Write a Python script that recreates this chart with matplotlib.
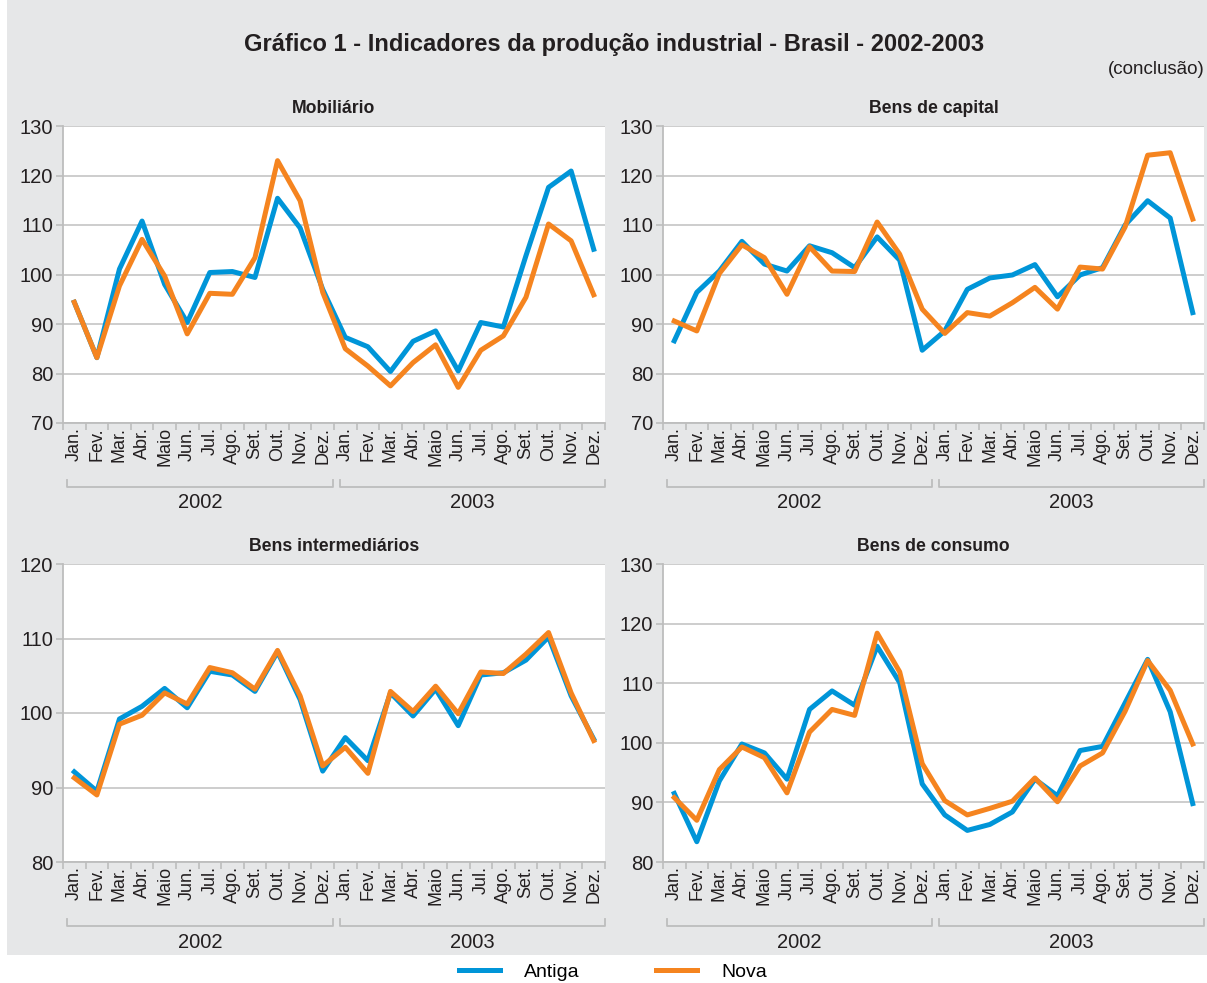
import numpy as np
import matplotlib
matplotlib.use('Agg')
import matplotlib.pyplot as plt
import matplotlib.transforms as mtransforms
from matplotlib.patches import Rectangle

plt.rcParams['font.family'] = ['Liberation Sans', 'DejaVu Sans']

meses = ['Jan.', 'Fev.', 'Mar.', 'Abr.', 'Maio', 'Jun.', 'Jul.', 'Ago.', 'Set.', 'Out.', 'Nov.', 'Dez.']
anos = ['2002', '2003']

# Mobiliario
mob_antiga = [94.4, 83.2, 101.1, 110.8, 98.0, 90.3, 100.4, 100.6, 99.4, 115.4, 109.4, 97.0,
              87.3, 85.4, 80.4, 86.5, 88.6, 80.5, 90.3, 89.4, 103.8, 117.6, 120.9, 105.1]
mob_nova = [94.4, 83.2, 97.7, 107.1, 99.7, 88.0, 96.2, 96.0, 103.4, 123.0, 114.9, 96.4,
            85.0, 81.5, 77.5, 82.2, 85.8, 77.2, 84.7, 87.6, 95.4, 110.2, 106.8, 95.9]

# Bens de capital
cap_antiga = [86.6, 96.4, 100.7, 106.7, 102.1, 100.7, 105.8, 104.4, 101.4, 107.6, 102.9, 84.7,
              88.6, 97.0, 99.3, 99.9, 102.0, 95.5, 99.9, 101.4, 110.0, 114.9, 111.4, 92.3]
cap_nova = [90.6, 88.6, 100.2, 106.0, 103.4, 96.0, 105.6, 100.7, 100.6, 110.6, 104.1, 93.0,
            88.1, 92.3, 91.6, 94.3, 97.4, 93.0, 101.5, 101.1, 109.6, 124.1, 124.6, 111.2]

# Bens intermediarios
int_antiga = [92.1, 89.5, 99.2, 100.9, 103.3, 100.7, 105.6, 105.1, 102.9, 108.2, 101.8, 92.2,
              96.7, 93.6, 102.7, 99.6, 103.2, 98.3, 105.1, 105.4, 107.1, 110.2, 102.3, 96.5]
int_nova = [91.3, 89.0, 98.5, 99.7, 102.7, 101.2, 106.1, 105.4, 103.2, 108.4, 102.3, 92.9,
            95.4, 91.9, 102.9, 100.2, 103.6, 99.9, 105.5, 105.3, 107.9, 110.8, 102.7, 96.3]

# Bens de consumo
con_antiga = [91.5, 83.4, 93.6, 99.8, 98.3, 93.9, 105.6, 108.7, 106.3, 116.2, 110.1, 93.1,
              87.9, 85.3, 86.3, 88.4, 93.9, 91.1, 98.7, 99.4, 106.7, 114.0, 105.2, 89.8]
con_nova = [90.8, 87.0, 95.5, 99.3, 97.5, 91.6, 101.8, 105.6, 104.6, 118.4, 111.9, 96.5,
            90.3, 87.9, 89.0, 90.2, 94.1, 90.1, 96.1, 98.3, 105.3, 113.8, 108.8, 99.8]

AZUL = '#0095d8'
LARANJA = '#f5841f'
FUNDO = '#e6e7e8'
GRADE = '#c9c9c9'
TEXTO = '#231f20'

W, H = 1207, 983
fig = plt.figure(figsize=(W / 100, H / 100), dpi=100)
fig.patch.set_facecolor('white')
fig.patches.append(Rectangle((7 / W, 1 - 955 / H), 1 - 7 / W, 955 / H,
                             transform=fig.transFigure, facecolor=FUNDO, edgecolor='none', zorder=-10))

def px_rect(left, top, right, bottom):
    return [left / W, 1 - bottom / H, (right - left) / W, (bottom - top) / H]

paineis = [
    ('Mobiliário', mob_antiga, mob_nova, (70, 130), px_rect(63, 126, 605, 423)),
    ('Bens de capital', cap_antiga, cap_nova, (70, 130), px_rect(663, 126, 1204, 423)),
    ('Bens intermediários', int_antiga, int_nova, (80, 120), px_rect(63, 564, 605, 862)),
    ('Bens de consumo', con_antiga, con_nova, (80, 130), px_rect(663, 564, 1204, 862)),
]

x = np.arange(24)
for titulo, antiga, nova, (lo, hi), rect in paineis:
    ax = fig.add_axes(rect)
    ax.set_facecolor('white')
    ax.plot(x, antiga, color=AZUL, lw=3.6, label='Antiga', zorder=3)
    ax.plot(x, nova, color=LARANJA, lw=3.6, label='Nova', zorder=4)
    ax.set_xlim(-0.5, 23.5)
    ax.set_ylim(lo, hi)
    ax.set_yticks(range(lo, hi + 1, 10))
    ax.yaxis.grid(True, color=GRADE, lw=1.3)
    ax.set_axisbelow(True)
    for s in ['top', 'right']:
        ax.spines[s].set_visible(False)
    for s in ['left', 'bottom']:
        ax.spines[s].set_color('#bdbdbd')
        ax.spines[s].set_linewidth(1.3)
    ax.set_xticks(np.arange(-0.5, 24, 1))
    ax.set_xticklabels([])
    ax.set_xticks(x, minor=True)
    ax.set_xticklabels(meses * 2, minor=True, rotation=90, fontsize=13, color=TEXTO)
    ax.tick_params(axis='x', which='major', length=5, color='#bdbdbd', width=1.2)
    ax.tick_params(axis='x', which='minor', length=0, pad=3)
    ax.tick_params(axis='y', length=5, color='#bdbdbd', width=1.2, labelsize=14.5, labelcolor=TEXTO, pad=2)
    ax.set_title(titulo, fontsize=12.7, fontweight='bold', color=TEXTO, pad=9.5)

    # chaves dos anos
    tr = mtransforms.blended_transform_factory(ax.transData, ax.transAxes)
    h = ax.get_position().height * H
    y_br = -64 / h
    y_tk = -57 / h
    for (a, b), ano in zip([(-0.32, 11.45), (11.75, 23.5)], anos):
        ax.plot([a, a, b, b], [y_tk, y_br, y_br, y_tk], transform=tr, color='#bdbdbd',
                lw=1.3, clip_on=False)
        ax.text((a + b) / 2, -80 / h, ano, transform=tr, ha='center', va='center',
                fontsize=14.5, color=TEXTO)

fig.text(614 / W, 1 - 44 / H, 'Gráfico 1 - Indicadores da produção industrial - Brasil - 2002-2003',
         ha='center', va='center', fontsize=17, fontweight='bold', color=TEXTO)
fig.text(1205 / W, 1 - 69 / H, '(conclusão)', ha='right', va='center', fontsize=13.5, color=TEXTO)

handles, labels = fig.axes[0].get_legend_handles_labels()
fig.legend(handles, labels, loc='center', bbox_to_anchor=(613 / W, 1 - 972 / H), ncol=2,
           frameon=False, fontsize=14, handlelength=2.1, handletextpad=1.25, columnspacing=3.9)

fig.savefig('out.png', dpi=100)
